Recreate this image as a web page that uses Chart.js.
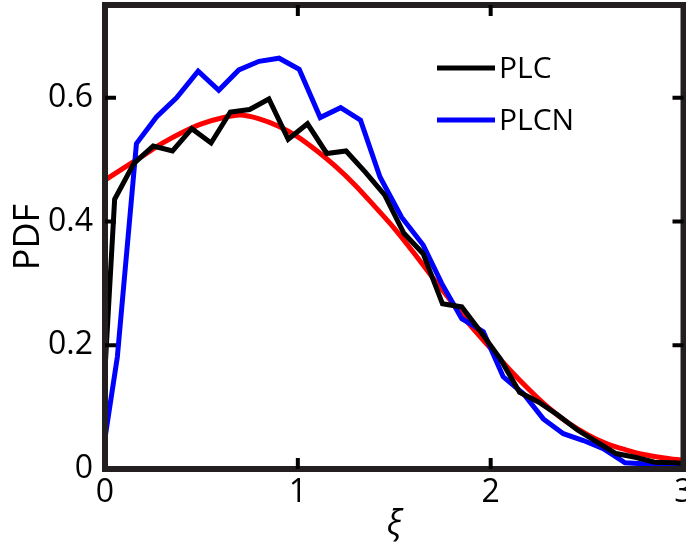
<!DOCTYPE html>
<html>
<head>
<meta charset="utf-8">
<script src="https://cdn.jsdelivr.net/npm/chart.js@4.4.1/dist/chart.umd.min.js"></script>
<style>
  html, body { margin: 0; padding: 0; background: #fff; }
</style>
</head>
<body>
<canvas id="pdf-chart" width="686" height="554"></canvas>
<script>
// PLC histogram (black)
const plcX = [0, 0.05, 0.15, 0.25, 0.35, 0.45, 0.55, 0.65, 0.75, 0.85, 0.95, 1.05, 1.15, 1.25, 1.35, 1.45,
              1.55, 1.65, 1.75, 1.85, 1.95, 2.05, 2.15, 2.25, 2.35, 2.45, 2.55, 2.65, 2.75, 2.85, 2.95, 3.0];
const plcY = [0.16, 0.436, 0.494, 0.522, 0.514, 0.550, 0.527, 0.577, 0.581, 0.598, 0.533, 0.558, 0.510, 0.514, 0.480, 0.443,
              0.381, 0.348, 0.267, 0.262, 0.221, 0.178, 0.124, 0.108, 0.087, 0.063, 0.044, 0.025, 0.019, 0.011, 0.010, 0.009];

// PLCN histogram (blue)
const plcnX = [0, 0.064, 0.163, 0.267, 0.371, 0.483, 0.590, 0.694, 0.799, 0.903, 1.007, 1.116, 1.222, 1.325, 1.426,
               1.538, 1.650, 1.746, 1.850, 1.962, 2.065, 2.169, 2.273, 2.377, 2.481, 2.584, 2.697, 2.810, 2.913, 3.0];
const plcnY = [0.05, 0.181, 0.526, 0.569, 0.600, 0.643, 0.612, 0.645, 0.659, 0.664, 0.646, 0.568, 0.584, 0.564, 0.472,
               0.407, 0.362, 0.300, 0.243, 0.222, 0.149, 0.122, 0.081, 0.057, 0.046, 0.033, 0.010, 0.008, 0.006, 0.005];

// fitted density (red)
const fitX = [0, 0.1, 0.2, 0.3, 0.4, 0.5, 0.6, 0.7, 0.8, 0.9, 1.0, 1.1, 1.2, 1.3, 1.4, 1.5,
              1.6, 1.7, 1.8, 1.9, 2.0, 2.1, 2.2, 2.3, 2.4, 2.5, 2.6, 2.7, 2.8, 2.9, 3.0];
const fitY = [0.467, 0.487, 0.507, 0.527, 0.544, 0.558, 0.567, 0.572, 0.566, 0.554, 0.537, 0.514, 0.488, 0.458, 0.424, 0.389,
              0.350, 0.309, 0.269, 0.230, 0.195, 0.160, 0.128, 0.099, 0.075, 0.056, 0.041, 0.031, 0.023, 0.018, 0.014];

const xTicks = [0, 1, 2, 3];
const yTicks = [0, 0.2, 0.4, 0.6];

const FONT = "'Open Sans', sans-serif";
const AXIS_COLOR = '#231f20';

const toPoints = (xs, ys) => xs.map((x, i) => ({ x: x, y: ys[i] }));

// box around the plot with inward tick marks, plus the legend in the upper right
const framePlugin = {
    id: 'frame',
    afterDatasetsDraw(chart) {
        const { ctx, chartArea: a, scales: { x, y } } = chart;
        ctx.save();
        ctx.strokeStyle = AXIS_COLOR;
        ctx.lineWidth = 6;
        ctx.strokeRect(a.left, a.top, a.right - a.left, a.bottom - a.top);

        ctx.strokeStyle = '#000';
        ctx.lineWidth = 4;
        const len = 11;
        ctx.beginPath();
        xTicks.slice(1, -1).forEach(v => {
            const px = x.getPixelForValue(v);
            ctx.moveTo(px, a.bottom); ctx.lineTo(px, a.bottom - len);
            ctx.moveTo(px, a.top); ctx.lineTo(px, a.top + len);
        });
        yTicks.slice(1).forEach(v => {
            const py = y.getPixelForValue(v);
            ctx.moveTo(a.left, py); ctx.lineTo(a.left + len, py);
            ctx.moveTo(a.right, py); ctx.lineTo(a.right - len, py);
        });
        ctx.stroke();

        // legend (only the two histograms)
        const items = chart.data.datasets.filter(d => d.label);
        ctx.font = '30px ' + FONT;
        ctx.textBaseline = 'middle';
        ctx.textAlign = 'left';
        items.forEach((d, i) => {
            const ly = 68 + i * 52;
            ctx.strokeStyle = d.borderColor;
            ctx.lineWidth = 5;
            ctx.beginPath();
            ctx.moveTo(437, ly);
            ctx.lineTo(495, ly);
            ctx.stroke();
            ctx.fillStyle = '#000';
            ctx.fillText(d.label, 499, ly + 1);
        });
        ctx.restore();
    }
};

new Chart(document.getElementById('pdf-chart'), {
    type: 'line',
    data: {
        datasets: [
            {
                label: 'PLC',
                data: toPoints(plcX, plcY),
                borderColor: '#000000',
                borderWidth: 5,
                pointRadius: 0,
                tension: 0
            },
            {
                label: 'PLCN',
                data: toPoints(plcnX, plcnY),
                borderColor: '#0000ff',
                borderWidth: 5,
                pointRadius: 0,
                tension: 0
            },
            {
                label: '',
                data: toPoints(fitX, fitY),
                borderColor: '#ff0000',
                borderWidth: 5,
                pointRadius: 0,
                cubicInterpolationMode: 'monotone'
            }
        ]
    },
    options: {
        responsive: false,
        animation: false,
        devicePixelRatio: 1,
        layout: { padding: { top: 5, right: 2.5, left: 0, bottom: 0 } },
        plugins: {
            legend: { display: false },
            tooltip: { enabled: false }
        },
        scales: {
            x: {
                type: 'linear',
                min: 0,
                max: 3,
                afterBuildTicks: s => { s.ticks = xTicks.map(v => ({ value: v })); },
                afterFit: s => { s.height = 85; s.paddingLeft = 0; s.paddingRight = 0; },
                grid: { display: false, drawTicks: false },
                border: { display: false },
                ticks: {
                    autoSkip: false,
                    maxRotation: 0,
                    padding: 5,
                    color: '#000',
                    font: { family: FONT, size: 32 },
                    callback: v => String(v)
                },
                title: {
                    display: true,
                    text: 'ξ',
                    color: '#000',
                    font: { family: FONT, size: 34, style: 'italic' },
                    padding: { top: 0, bottom: 8 }
                }
            },
            y: {
                min: 0,
                max: 0.75,
                afterBuildTicks: s => { s.ticks = yTicks.map(v => ({ value: v })); },
                afterFit: s => { s.width = 105; s.paddingTop = 0; s.paddingBottom = 0; },
                grid: { display: false, drawTicks: false },
                border: { display: false },
                ticks: {
                    padding: 12,
                    color: '#000',
                    font: { family: FONT, size: 32 },
                    callback: v => (v === 0 ? '0' : v.toFixed(1))
                },
                title: {
                    display: true,
                    text: 'PDF',
                    color: '#000',
                    font: { family: FONT, size: 36 },
                    padding: { top: 7, bottom: 0 }
                }
            }
        }
    },
    plugins: [framePlugin]
});
</script>
</body>
</html>
